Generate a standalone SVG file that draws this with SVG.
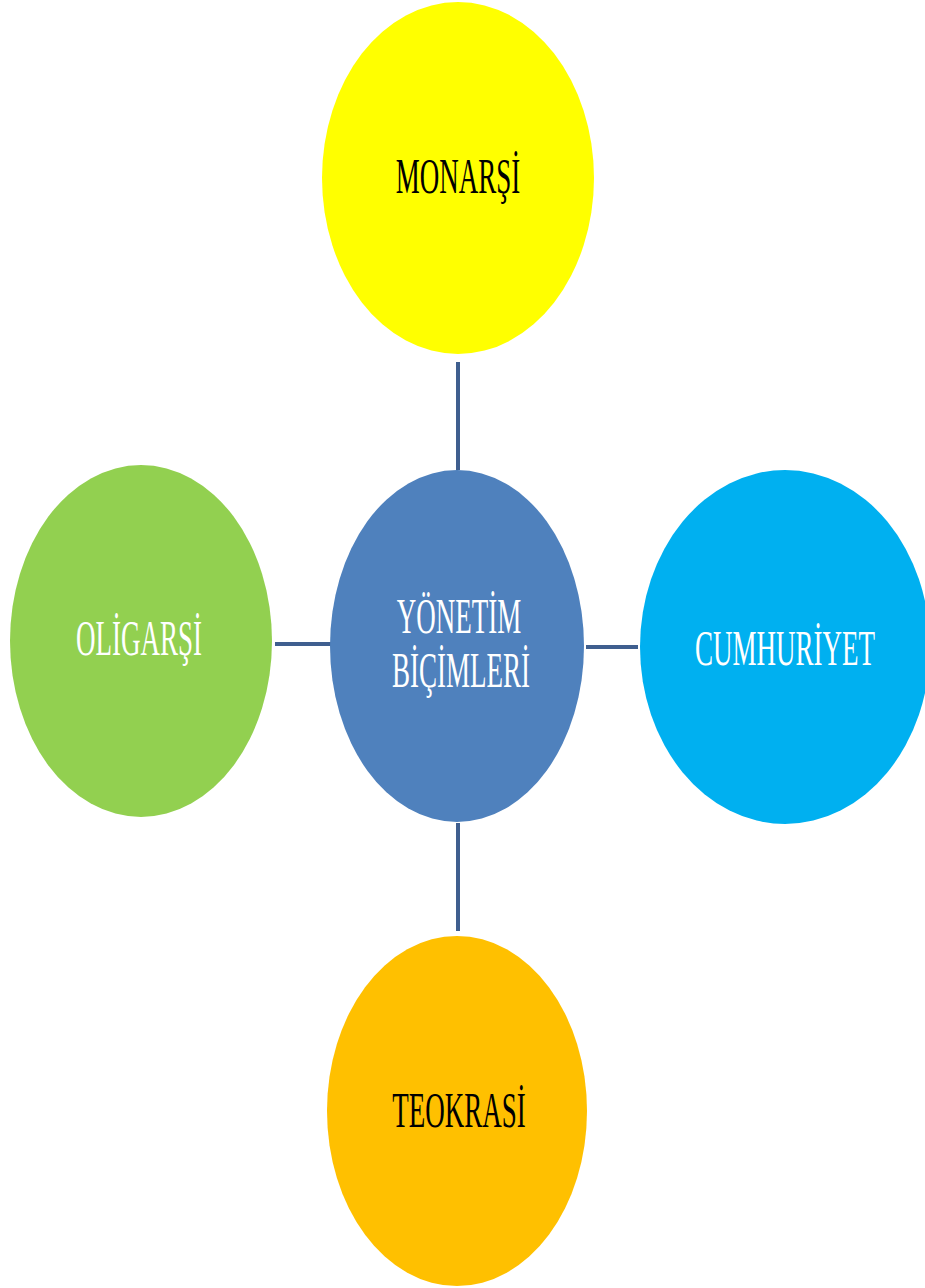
<svg xmlns="http://www.w3.org/2000/svg" width="925" height="1288" viewBox="0 0 925 1288">
<style>
.lbl{font-family:"Liberation Serif","Times New Roman",serif;font-size:27px;text-anchor:middle}
.dark{fill:#000}
.light{fill:#fff}
.conn{stroke:#3F5F8F;stroke-width:4;fill:none}
</style>
<rect width="925" height="1288" fill="#fff"/>
<g id="connectors">
<line class="conn" x1="458" y1="362" x2="458" y2="470"/>
<line class="conn" x1="458" y1="823" x2="458" y2="931"/>
<line class="conn" x1="275" y1="644" x2="331" y2="644"/>
<line class="conn" x1="586" y1="647" x2="638" y2="647"/>
</g>
<g id="monarsi">
<ellipse cx="458" cy="178" rx="136" ry="176" fill="#FFFF00"/>
<text class="lbl dark" transform="translate(458,193) scale(1,1.85)">MONARŞİ</text>
</g>
<g id="yonetim">
<ellipse cx="457" cy="646" rx="127" ry="176" fill="#4F81BD"/>
<text class="lbl light" transform="translate(459,633) scale(1,1.85)">YÖNETİM</text>
<text class="lbl light" transform="translate(461,687) scale(1,1.85)">BİÇİMLERİ</text>
</g>
<g id="oligarsi">
<ellipse cx="141" cy="641" rx="131" ry="176" fill="#92D050"/>
<text class="lbl light" transform="translate(139,655) scale(1,1.85)">OLİGARŞİ</text>
</g>
<g id="cumhuriyet">
<ellipse cx="785" cy="647" rx="145" ry="177" fill="#00B0F0"/>
<text class="lbl light" transform="translate(785,665) scale(1,1.85)">CUMHURİYET</text>
</g>
<g id="teokrasi">
<ellipse cx="457" cy="1111" rx="130" ry="175" fill="#FFC000"/>
<text class="lbl dark" transform="translate(459,1127) scale(1,1.85)">TEOKRASİ</text>
</g>
</svg>
